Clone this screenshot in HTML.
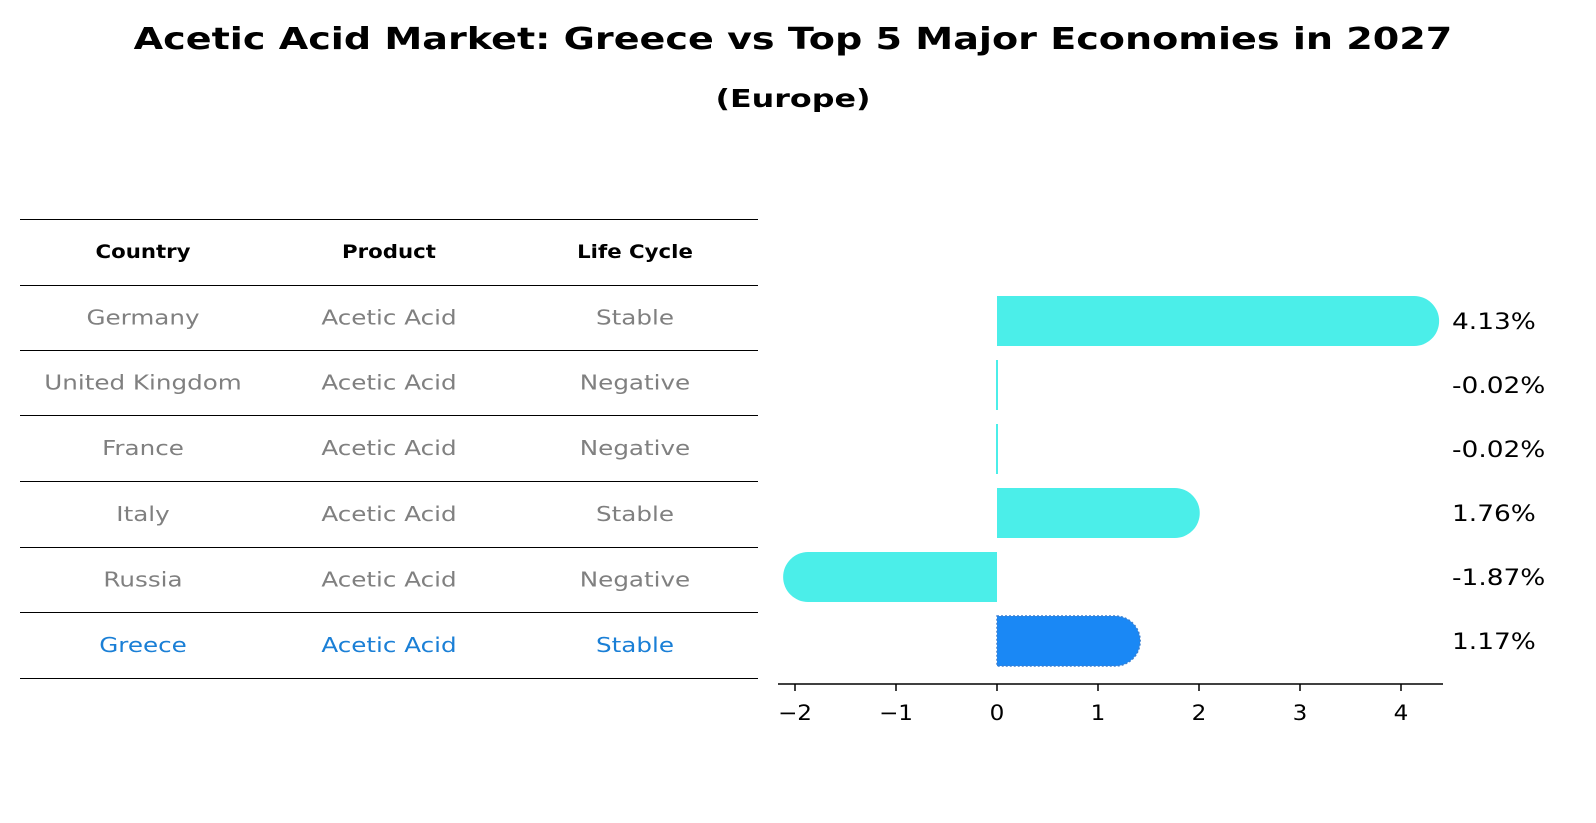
<!DOCTYPE html>
<html><head><meta charset="utf-8"><style>
body{margin:0;background:#fff;font-family:"DejaVu Sans","Liberation Sans",sans-serif;}
svg{display:block}
</style></head><body>
<svg width="1596" height="823" viewBox="0 0 1596 823">
<text id="title" x="793" y="49" text-anchor="middle" font-size="30" font-weight="bold">Acetic Acid Market: Greece vs Top 5 Major Economies in 2027</text>
<text id="subtitle" x="793" y="107" text-anchor="middle" font-size="25" font-weight="bold">(Europe)</text>
<g id="table"></g>
<g id="bars"></g>
</svg>
<script>
const countries=["Germany","United Kingdom","France","Italy","Russia","Greece"];
const products=["Acetic Acid","Acetic Acid","Acetic Acid","Acetic Acid","Acetic Acid","Acetic Acid"];
const lifeCycles=["Stable","Negative","Negative","Stable","Negative","Stable"];
const growth=[4.13,-0.02,-0.02,1.76,-1.87,1.17];
const xTicks=[-2,-1,0,1,2,3,4];
const NS="http://www.w3.org/2000/svg";
function mk(tag,attrs,parent,text){const e=document.createElementNS(NS,tag);for(const k in attrs)e.setAttribute(k,attrs[k]);if(text!==undefined)e.textContent=text;parent.appendChild(e);return e;}
function stretch(t,f){try{const w=t.getComputedTextLength();if(w>0){t.setAttribute('textLength',w*f);t.setAttribute('lengthAdjust','spacingAndGlyphs');}}catch(e){}}
stretch(document.getElementById('title'),1.27);
stretch(document.getElementById('subtitle'),1.27);
const tg=document.getElementById('table');
const colX=[143,389,635];
const lineYs=[219,285,350,415,481,547,612,678];
lineYs.forEach(y=>{const l=mk('line',{x1:20,x2:758,y1:y+0.5,y2:y+0.5,stroke:'#000','stroke-width':1,'shape-rendering':'crispEdges'},tg);

});
["Country","Product","Life Cycle"].forEach((h,i)=>{const t=mk('text',{x:colX[i],y:258,'text-anchor':'middle','font-size':19,'font-weight':'bold'},tg,h);


stretch(t,1.12);});
countries.forEach((c,r)=>{const y=(lineYs[r+1]+lineYs[r+2])/2+7;const col=c==="Greece"?'#1a7fd6':'#808080';
[c,products[r],lifeCycles[r]].forEach((v,i)=>{const t=mk('text',{x:colX[i],y:y,'text-anchor':'middle','font-size':20,fill:col},tg,v);


stretch(t,1.23);});});
const bg=document.getElementById('bars');
const x0=997,ppu=101;const xs=v=>x0+v*ppu;
const rowY=i=>321+i*64;const h=50,r=25;
growth.forEach((v,i)=>{const cy=rowY(i),top=cy-h/2,xe=xs(v);const g=countries[i]==="Greece";
const fill=g?'#1a88f5':'#4beee9';
let d;
if(Math.abs(v)<0.05){d=`M${x0-1},${top}h2v${h}h-2z`;}
else if(v>0){d=`M${x0},${top}H${xe}A${r},${r} 0 0 1 ${xe},${top+h}H${x0}Z`;}
else{d=`M${x0},${top}H${xe}A${r},${r} 0 0 0 ${xe},${top+h}H${x0}Z`;}
const p=mk('path',{d:d,fill:fill},bg);
if(g){p.setAttribute('stroke','#3a7fd0');p.setAttribute('stroke-dasharray','2,2');p.setAttribute('stroke-width',1.5);}


const t=mk('text',{x:1452,y:cy+8,'font-size':22},bg,v.toFixed(2)+'%');


stretch(t,1.2);});
const ax=mk('line',{x1:778,x2:1443,y1:684,y2:684,stroke:'#000','stroke-width':1.5},bg);


xTicks.forEach(v=>{const tk=mk('line',{x1:xs(v),x2:xs(v),y1:684,y2:691,stroke:'#000','stroke-width':1.5},bg);


const t=mk('text',{x:xs(v),y:720,'text-anchor':'middle','font-size':21},bg,v<0?'\u2212'+Math.abs(v):String(v));


stretch(t,1.1);});
</script>
</body></html>
